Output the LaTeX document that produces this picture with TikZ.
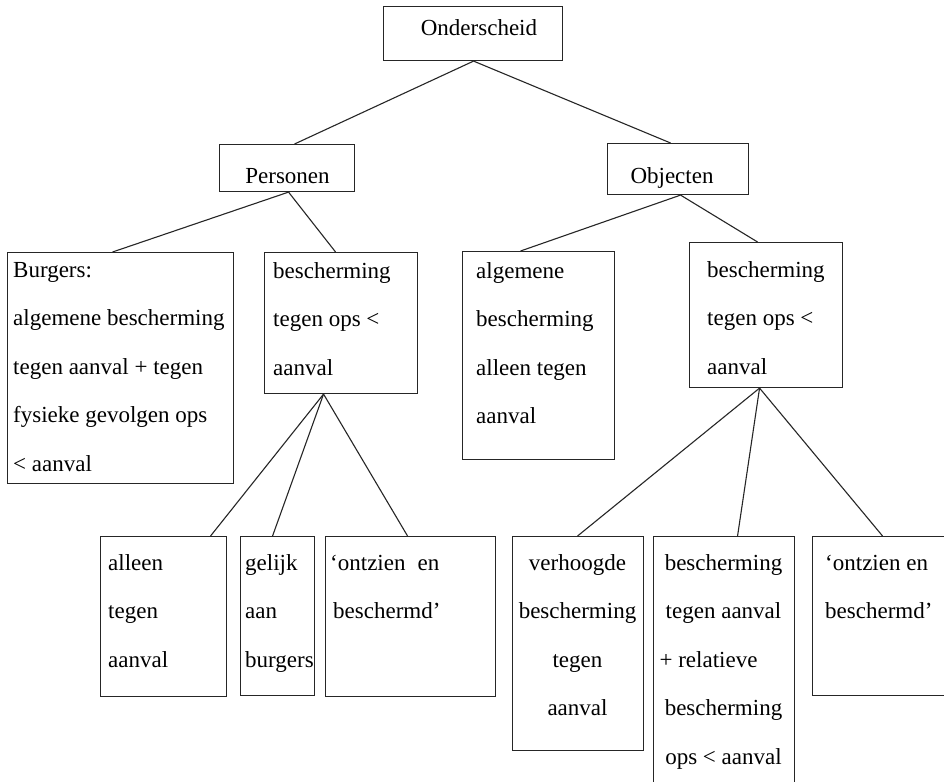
\documentclass[tikz,border=0pt]{standalone}
\usepackage{fontspec}
\setmainfont{Liberation Serif}
\begin{document}
\begin{tikzpicture}[x=1pt,y=-1pt,
  box/.style={draw=black!85, line width=1.1pt, inner sep=0pt, anchor=north west},
  txt/.style={inner sep=0pt, font=\fontsize{23}{48.5}\selectfont},
  link/.style={draw=black!85, line width=1.1pt}]
\useasboundingbox (0,0) rectangle (944,781);
\clip (0,0) rectangle (944,781);
\fill[white] (0,0) rectangle (944,781);

% boxes
\node[box, minimum width=179pt, minimum height=54pt]  (ond)    at (383,6)   {};
\node[box, minimum width=135pt, minimum height=47pt]  (pers)   at (219,144) {};
\node[box, minimum width=141pt, minimum height=51pt]  (obj)    at (607,143) {};
\node[box, minimum width=226pt, minimum height=231pt] (burg)   at (7,252)   {};
\node[box, minimum width=153pt, minimum height=141pt] (pbes)   at (264,252) {};
\node[box, minimum width=152pt, minimum height=208pt] (alg)    at (462,251) {};
\node[box, minimum width=153pt, minimum height=145pt] (obes)   at (689,242) {};
\node[box, minimum width=126pt, minimum height=160pt] (alleen) at (100,536) {};
\node[box, minimum width=74pt,  minimum height=159pt] (gelijk) at (240,536) {};
\node[box, minimum width=170pt, minimum height=160pt] (pontz)  at (325,536) {};
\node[box, minimum width=131pt, minimum height=214pt] (verh)   at (512,536) {};
\node[box, minimum width=141pt, minimum height=264pt] (mid)    at (653,536) {};
\node[box, minimum width=200pt, minimum height=159pt] (oontz)  at (812,536) {};

% texts
\node[txt, anchor=base] (ondt)  at (479,36)  {Onderscheid};
\node[txt, anchor=base] (perst) at (287.5,183) {Personen};
\node[txt, anchor=base] (objt)  at (672,183) {Objecten};
\node[txt, anchor=north west, align=left] (burgt) at (13,260)
  {\rule{0pt}{17pt}Burgers:\\algemene bescherming\\tegen aanval + tegen\\fysieke gevolgen ops\\< aanval};
\node[txt, anchor=north west, align=left] (pbest) at (273,261)
  {\rule{0pt}{17pt}bescherming\\tegen ops <\\aanval};
\node[txt, anchor=north west, align=left] (algt) at (476,261)
  {\rule{0pt}{17pt}algemene\\bescherming\\alleen tegen\\aanval};
\node[txt, anchor=north west, align=left] (obest) at (707,260)
  {\rule{0pt}{17pt}bescherming\\tegen ops <\\aanval};
\node[txt, anchor=north west, align=left] (alleent) at (108,553)
  {\rule{0pt}{17pt}alleen\\tegen\\aanval};
\node[txt, anchor=north west, align=left] (gelijkt) at (245,553)
  {\rule{0pt}{17pt}gelijk\\aan\\burgers};
\node[txt, anchor=north west, align=left] (pontzt) at (330,553)
  {\rule{0pt}{17pt}‘ontzien\hspace{12pt}en\\\hspace{3pt}beschermd’};
\node[txt, anchor=north, align=center] (verht) at (577.5,553)
  {\rule{0pt}{17pt}verhoogde\\bescherming\\tegen\\aanval};
\node[txt, anchor=north, align=center] (midt) at (723.5,553)
  {\rule{0pt}{17pt}bescherming\\tegen aanval\\+ relatieve\kern 30pt\\bescherming\\ops < aanval};
\node[txt, anchor=north west, align=left] (oontzt) at (825,553)
  {\rule{0pt}{17pt}‘ontzien en\\beschermd’};

% connectors
\draw[link] ([xshift=0.5pt]ond.south) -- ([xshift=7.5pt]pers.north);
\draw[link] ([xshift=0.5pt]ond.south) -- ([xshift=-7.5pt]obj.north);
\draw[link] ([xshift=1.5pt]pers.south) -- ([xshift=-8pt]burg.north);
\draw[link] ([xshift=1.5pt]pers.south) -- ([xshift=-5.5pt]pbes.north);
\draw[link] ([xshift=2.5pt]obj.south) -- ([xshift=-18pt]alg.north);
\draw[link] ([xshift=2.5pt]obj.south) -- ([xshift=-8.5pt]obes.north);
\draw[link] ([xshift=-17.5pt]pbes.south) -- ([xshift=47pt]alleen.north);
\draw[link] ([xshift=-17.5pt]pbes.south) -- ([xshift=-5pt]gelijk.north);
\draw[link] ([xshift=-17.5pt]pbes.south) -- ([xshift=-3pt]pontz.north);
\draw[link] ([xshift=-6.5pt]obes.south) -- ([xshift=-0.5pt]verh.north);
\draw[link] ([xshift=-6.5pt]obes.south) -- ([xshift=13.5pt]mid.north);
\draw[link] ([xshift=-6.5pt]obes.south) -- ([xshift=-30pt]oontz.north);
\end{tikzpicture}
\end{document}
